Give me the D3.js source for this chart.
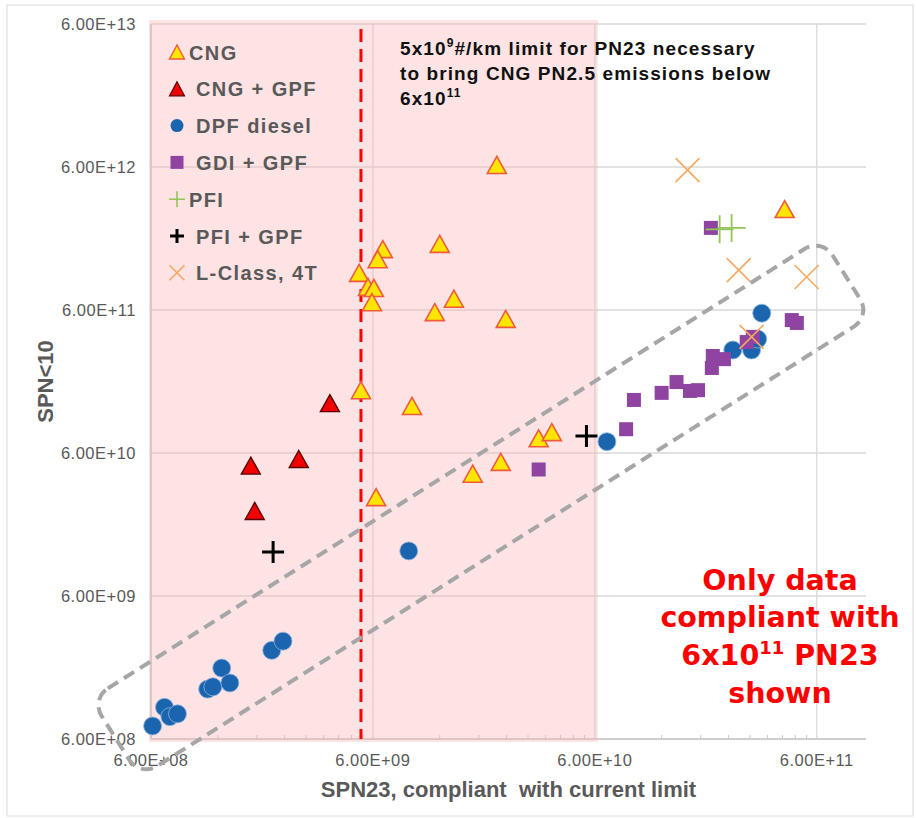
<!DOCTYPE html>
<html>
<head>
<meta charset="utf-8">
<script src="https://cdn.jsdelivr.net/npm/d3@7"></script>
<style>
  body { margin: 0; background: #fff; }
  svg text { font-family: "Liberation Sans", Arial, sans-serif; }
</style>
</head>
<body>
<div id="chart"></div>
<script>
// [SPN23, SPN<10] pairs
const cngData = [
  [2.17e10, 6.2e12], [4.3e11, 3.05e12], [1.2e10, 1.74e12], [6.65e9, 1.6e12],
  [6.3e9, 1.36e12], [5.2e9, 1.09e12], [5.7e9, 8.7e11], [6.06e9, 8.55e11],
  [5.94e9, 6.8e11], [1.39e10, 7.2e11], [1.14e10, 5.8e11], [2.38e10, 5.2e11],
  [5.3e9, 1.65e11], [9.0e9, 1.28e11], [6.2e9, 2.95e10], [1.69e10, 4.3e10],
  [2.26e10, 5.2e10], [3.35e10, 7.6e10], [3.84e10, 8.4e10]
]
const cngGpfData = [[3.84e9, 1.34e11], [2.78e9, 5.45e10], [1.69e9, 4.9e10], [1.76e9, 2.36e10]]
const dpfDieselData = [
  [6.1e8, 7.4e8], [6.9e8, 1.0e9], [7.3e8, 8.6e8], [7.9e8, 9.0e8],
  [1.08e9, 1.34e9], [1.14e9, 1.39e9], [1.25e9, 1.88e9], [1.36e9, 1.48e9],
  [2.1e9, 2.5e9], [2.36e9, 2.9e9], [8.7e9, 1.24e10], [6.8e10, 7.2e10],
  [3.39e11, 5.7e11], [2.51e11, 3.15e11], [3.05e11, 3.15e11], [3.25e11, 3.76e11]
]
const gdiGpfData = [
  [3.35e10, 4.6e10], [8.3e10, 8.8e10], [9.0e10, 1.41e11], [1.2e11, 1.58e11],
  [1.4e11, 1.88e11], [1.61e11, 1.63e11], [1.75e11, 1.65e11], [2.02e11, 2.36e11],
  [2.04e11, 2.86e11], [2.29e11, 2.72e11], [2.9e11, 3.58e11], [3.09e11, 3.89e11],
  [4.63e11, 5.1e11], [4.88e11, 4.87e11], [2.0e11, 2.25e12]
]
const pfiData = [[2.19e11, 2.2e12], [2.48e11, 2.25e12]]
const pfiGpfData = [[2.13e9, 1.22e10], [5.5e10, 7.9e10]]
const lClassData = [[1.57e11, 5.7e12], [2.67e11, 1.14e12], [5.4e11, 1.02e12], [3.05e11, 3.89e11]]

const seriesNames = ['CNG', 'CNG + GPF', 'DPF diesel', 'GDI + GPF', 'PFI', 'PFI + GPF', 'L-Class, 4T']
const xTicks = [6e8, 6e9, 6e10, 6e11]
const yTicks = [6e8, 6e9, 6e10, 6e11, 6e12, 6e13]
const limitPN23 = 5.3e9          // red dashed line
const currentLimit = 6e10        // end of shaded zone
const envelopeEnds = [[4.15e8, 6.1e8], [8.15e11, 1.02e12]]

const width = 916, height = 818
const grey = '#595959'

const svg = d3.select('#chart').append('svg')
  .attr('width', width)
  .attr('height', height)

// outer frame
svg.append('rect')
  .attr('x', 7).attr('y', 5).attr('width', 906).attr('height', 811)
  .attr('fill', '#fff').attr('stroke', '#d9d9d9').attr('stroke-width', 1)

const x = d3.scaleLog().domain([6e8, 1e12]).range([151, 866])
const y = d3.scaleLog().domain([6e8, 6e13]).range([739, 24])

const fmt = d => {
  const e = Math.floor(Math.log10(d) + 1e-9)
  return (d / Math.pow(10, e)).toFixed(2) + 'E+' + String(e).padStart(2, '0')
}

// gridlines
svg.append('g').selectAll('line')
  .data(yTicks)
  .join('line')
  .attr('x1', x.range()[0]).attr('x2', x.range()[1])
  .attr('y1', d => y(d)).attr('y2', d => y(d))
  .attr('stroke', '#d9d9d9').attr('stroke-width', 1.3)

svg.append('g').selectAll('line')
  .data(xTicks)
  .join('line')
  .attr('x1', d => x(d)).attr('x2', d => x(d))
  .attr('y1', y.range()[0]).attr('y2', y.range()[1])
  .attr('stroke', '#d9d9d9').attr('stroke-width', 1.3)

// axis lines
svg.append('line')
  .attr('x1', x.range()[0]).attr('x2', x.range()[0])
  .attr('y1', y.range()[0]).attr('y2', y.range()[1])
  .attr('stroke', '#c8c8c8').attr('stroke-width', 1.5)
svg.append('line')
  .attr('x1', x.range()[0]).attr('x2', x.range()[1])
  .attr('y1', y.range()[0]).attr('y2', y.range()[0])
  .attr('stroke', '#c8c8c8').attr('stroke-width', 1.5)

// minor ticks on x axis
const minor = xTicks.flatMap(t => d3.range(2, 10).map(k => t * k)).filter(v => v < x.domain()[1])
svg.append('g').selectAll('line')
  .data(minor)
  .join('line')
  .attr('x1', d => x(d)).attr('x2', d => x(d))
  .attr('y1', y.range()[0]).attr('y2', y.range()[0] - 4)
  .attr('stroke', '#c8c8c8').attr('stroke-width', 1)

// shaded zone (compliant with current limit)
svg.append('rect')
  .attr('x', x(x.domain()[0]) - 2)
  .attr('y', y.range()[1] - 4)
  .attr('width', x(currentLimit) - x(x.domain()[0]) + 5)
  .attr('height', y.range()[0] - y.range()[1] + 7)
  .attr('fill', '#f8b0b0')
  .attr('fill-opacity', 0.35)

// tick labels
svg.append('g').selectAll('text')
  .data(yTicks)
  .join('text')
  .attr('x', 136)
  .attr('y', d => y(d) + 6)
  .attr('text-anchor', 'end')
  .attr('font-size', 16.5)
  .attr('letter-spacing', 0.5)
  .attr('fill', grey)
  .text(fmt)

svg.append('g').selectAll('text')
  .data(xTicks)
  .join('text')
  .attr('x', d => x(d))
  .attr('y', 766)
  .attr('text-anchor', 'middle')
  .attr('font-size', 16.5)
  .attr('letter-spacing', 0.5)
  .attr('fill', grey)
  .text(fmt)

// axis titles
svg.append('text')
  .attr('x', (x.range()[0] + x.range()[1]) / 2)
  .attr('y', 797)
  .attr('text-anchor', 'middle')
  .attr('font-size', 22)
  .attr('font-weight', 'bold')
  .attr('fill', grey)
  .style('white-space', 'pre')
  .text('SPN23, compliant  with current limit')

svg.append('text')
  .attr('transform', `translate(53, ${(y.range()[0] + y.range()[1]) / 2}) rotate(-90)`)
  .attr('text-anchor', 'middle')
  .attr('font-size', 22)
  .attr('font-weight', 'bold')
  .attr('fill', grey)
  .text('SPN<10')

// red dashed limit line
svg.append('line')
  .attr('x1', x(limitPN23)).attr('x2', x(limitPN23))
  .attr('y1', y.range()[1] + 5).attr('y2', y.range()[0])
  .attr('stroke', '#ff0000')
  .attr('stroke-width', 3)
  .attr('stroke-dasharray', '13,7')

// marker drawers
const tri = (w, h) => `M0,${-h / 2}L${w / 2},${h / 2}L${-w / 2},${h / 2}Z`
const cross = s => `M${-s},0H${s}M0,${-s}V${s}`
const xmark = s => `M${-s},${-s}L${s},${s}M${-s},${s}L${s},${-s}`

const styles = {
  'CNG': g => g.append('path').attr('d', tri(19, 17)).attr('fill', '#ffe600').attr('stroke', '#f05a3c').attr('stroke-width', 1.6),
  'CNG + GPF': g => g.append('path').attr('d', tri(19, 17)).attr('fill', '#f20000').attr('stroke', '#5a0000').attr('stroke-width', 1.4),
  'DPF diesel': g => g.append('circle').attr('r', 9).attr('fill', '#1b64ae').attr('stroke', '#8fb3dc').attr('stroke-width', 0.8),
  'GDI + GPF': g => g.append('rect').attr('x', -7).attr('y', -7).attr('width', 14).attr('height', 14).attr('fill', '#8e44a0'),
  'PFI': g => g.append('path').attr('d', cross(14)).attr('stroke', '#92c55a').attr('stroke-width', 1.8).attr('fill', 'none'),
  'PFI + GPF': g => g.append('path').attr('d', cross(11)).attr('stroke', '#000').attr('stroke-width', 3).attr('fill', 'none'),
  'L-Class, 4T': g => g.append('path').attr('d', xmark(12)).attr('stroke', '#f5a860').attr('stroke-width', 1.6).attr('fill', 'none')
}

const legendStyles = {
  'CNG': g => g.append('path').attr('d', tri(15, 14)).attr('fill', '#ffe600').attr('stroke', '#f05a3c').attr('stroke-width', 1.4),
  'CNG + GPF': g => g.append('path').attr('d', tri(15, 14)).attr('fill', '#f20000').attr('stroke', '#5a0000').attr('stroke-width', 1.2),
  'DPF diesel': g => g.append('circle').attr('r', 6.5).attr('fill', '#1b64ae'),
  'GDI + GPF': g => g.append('rect').attr('x', -6.5).attr('y', -6.5).attr('width', 13).attr('height', 13).attr('fill', '#8e44a0'),
  'PFI': g => g.append('path').attr('d', cross(8)).attr('stroke', '#92c55a').attr('stroke-width', 1.6).attr('fill', 'none'),
  'PFI + GPF': g => g.append('path').attr('d', cross(7)).attr('stroke', '#000').attr('stroke-width', 3).attr('fill', 'none'),
  'L-Class, 4T': g => g.append('path').attr('d', xmark(7.5)).attr('stroke', '#f5a860').attr('stroke-width', 1.6).attr('fill', 'none')
}

const series = [
  ['DPF diesel', dpfDieselData],
  ['GDI + GPF', gdiGpfData],
  ['CNG', cngData],
  ['CNG + GPF', cngGpfData],
  ['PFI', pfiData],
  ['PFI + GPF', pfiGpfData],
  ['L-Class, 4T', lClassData]
]

series.forEach(([name, data]) => {
  svg.append('g').selectAll('g')
    .data(data)
    .join('g')
    .attr('transform', d => `translate(${x(d[0])},${y(d[1])})`)
    .each(function () { styles[name](d3.select(this)) })
})

// dashed envelope around the diagonal
const p0 = [x(envelopeEnds[0][0]), y(envelopeEnds[0][1])]
const p1 = [x(envelopeEnds[1][0]), y(envelopeEnds[1][1])]
const len = Math.hypot(p1[0] - p0[0], p1[1] - p0[1])
const ang = Math.atan2(p1[1] - p0[1], p1[0] - p0[0]) * 180 / Math.PI
svg.append('rect')
  .attr('transform', `translate(${(p0[0] + p1[0]) / 2},${(p0[1] + p1[1]) / 2}) rotate(${ang})`)
  .attr('x', -len / 2).attr('y', -46)
  .attr('width', len).attr('height', 92)
  .attr('rx', 20)
  .attr('fill', 'none')
  .attr('stroke', '#a6a6a6')
  .attr('stroke-width', 4)
  .attr('stroke-dasharray', '12,7')

// legend
const legend = svg.append('g')
seriesNames.forEach((name, i) => {
  const ly = 52 + i * 36.8
  const g = legend.append('g').attr('transform', `translate(177,${ly})`)
  legendStyles[name](g)
  legend.append('text')
    .attr('x', (name === 'CNG' || name === 'PFI') ? 189 : 196)
    .attr('y', ly + 7.5)
    .attr('font-size', 20)
    .attr('font-weight', 'bold')
    .attr('letter-spacing', 1.4)
    .attr('fill', grey)
    .text(name)
})

// note on the PN23 limit
const note = svg.append('text')
  .attr('font-size', 19)
  .attr('font-weight', 'bold')
  .attr('letter-spacing', 1.1)
  .attr('fill', '#111')
const l1 = note.append('tspan').attr('x', 400).attr('y', 55)
l1.append('tspan').text('5x10')
l1.append('tspan').attr('font-size', 12).attr('dy', -8).text('9')
l1.append('tspan').attr('dy', 8).text('#/km limit for PN23 necessary')
note.append('tspan').attr('x', 400).attr('y', 80).text('to bring CNG PN2.5 emissions below')
const l3 = note.append('tspan').attr('x', 400).attr('y', 105)
l3.append('tspan').text('6x10')
l3.append('tspan').attr('font-size', 12).attr('dy', -8).text('11')

// red statement
const red = svg.append('text')
  .attr('text-anchor', 'middle')
  .style('font-family', '"DejaVu Sans", sans-serif')
  .attr('font-size', 28.5)
  .attr('font-weight', 'bold')
  .attr('fill', '#ff0000')
red.append('tspan').attr('x', 780).attr('y', 590).text('Only data')
red.append('tspan').attr('x', 780).attr('y', 627).text('compliant with')
const r3 = red.append('tspan').attr('x', 780).attr('y', 665)
r3.append('tspan').text('6x10')
r3.append('tspan').attr('font-size', 18).attr('dy', -11).text('11')
r3.append('tspan').attr('dy', 11).text(' PN23')
red.append('tspan').attr('x', 780).attr('y', 703).text('shown')
</script>
</body>
</html>
